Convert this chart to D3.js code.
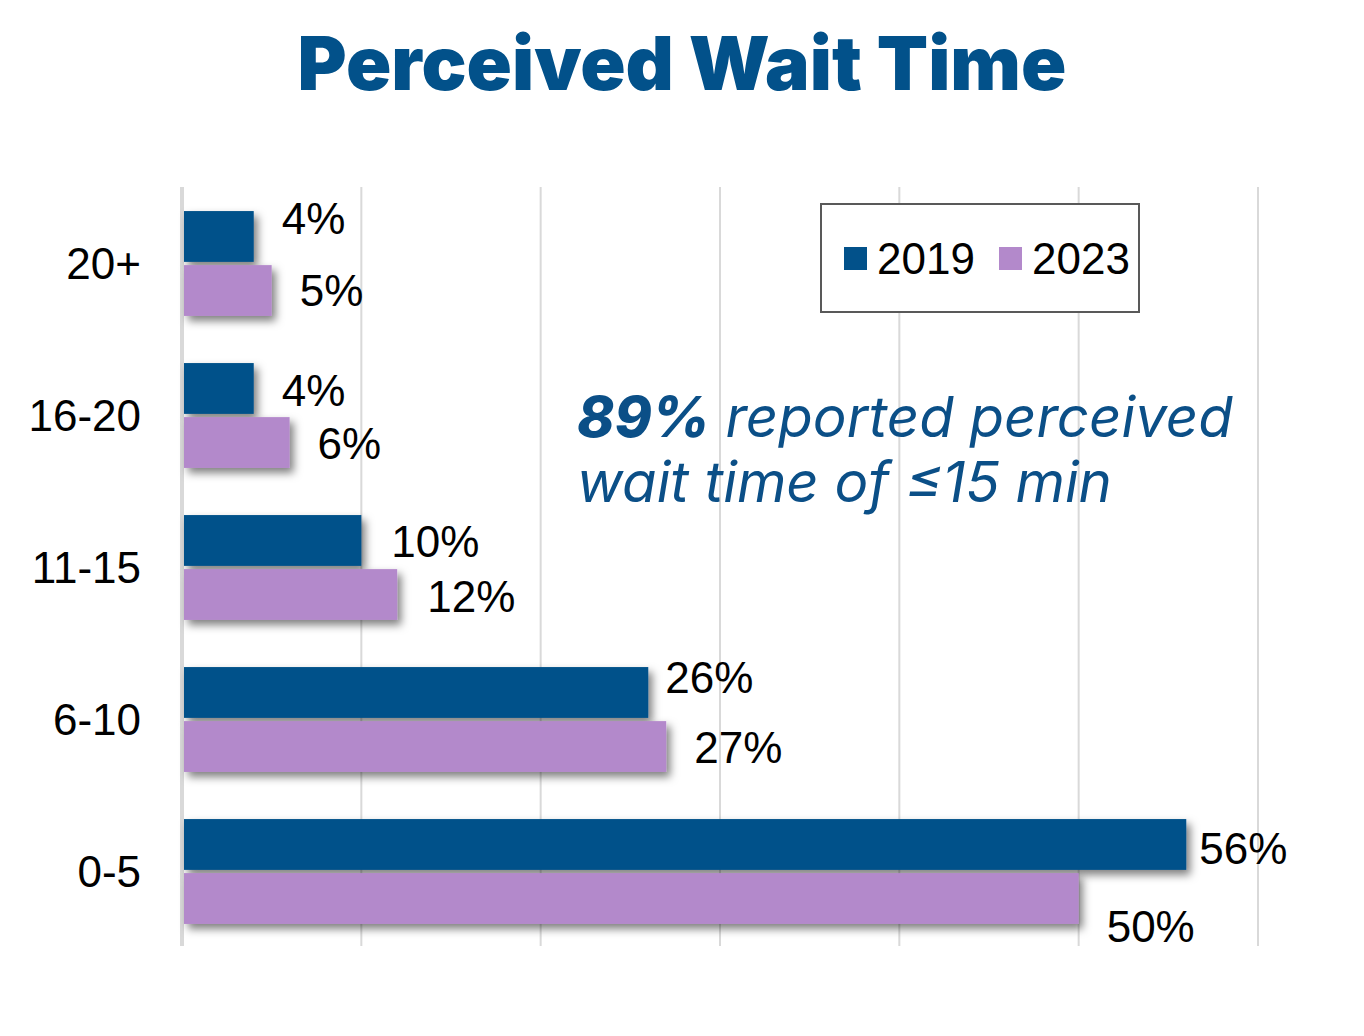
<!DOCTYPE html>
<html>
<head>
<meta charset="utf-8">
<script src="https://cdn.jsdelivr.net/npm/d3@7"></script>
<style>
  html, body { margin: 0; padding: 0; background: #fff; }
  svg { display: block; }
</style>
</head>
<body>
<svg id="chart" width="1364" height="1036"></svg>
<script>
// ---- data ----
const categories = ["20+", "16-20", "11-15", "6-10", "0-5"];
const seriesNames = ["2019", "2023"];
const values2019 = [4, 4, 10, 26, 56];
const values2023 = [5, 6, 12, 27, 50];
const xTicks = [0, 10, 20, 30, 40, 50, 60];
const titleText = "Perceived Wait Time";
const noteBold = "89%";
const noteLine1 = " reported perceived";
const noteLine2 = "wait time of \u226415 min";
// manual label nudges (dx, dy) in px, mimicking the hand-placed labels
const nudge2019 = [[0, -18], [0, 2], [2, 1], [-11, -15], [-15, 4]];
const nudge2023 = [[0, 0], [0, 1], [2, 2], [0, 1], [0, 28]];

const colors = { "2019": "#02518A", "2023": "#B389CB" };
const series = [
  { name: "2019", values: values2019, nudge: nudge2019 },
  { name: "2023", values: values2023, nudge: nudge2023 }
];

const svg = d3.select("#chart");
const defs = svg.append("defs");
const f = defs.append("filter").attr("id", "shadow")
  .attr("x", "-10%").attr("y", "-30%").attr("width", "130%").attr("height", "180%");
f.append("feDropShadow").attr("dx", 4).attr("dy", 5).attr("stdDeviation", 4)
  .attr("flood-color", "#000").attr("flood-opacity", 0.5);

const x = d3.scaleLinear().domain([0, 60]).range([182, 1258]);
const y = d3.scaleBand().domain(categories).range([187.5, 947.5])
  .paddingInner(0.31).paddingOuter(0.155);
const ySub = d3.scaleBand().domain(seriesNames).range([0, y.bandwidth()]).paddingInner(0.06);

// gridlines
const grid = svg.append("g");
grid.selectAll("line").data(xTicks).join("line")
  .attr("x1", d => x(d)).attr("x2", d => x(d))
  .attr("y1", 187).attr("y2", 946)
  .attr("stroke", "#D9D9D9")
  .attr("stroke-width", d => d === 0 ? 4 : 2);

// bars
const groups = svg.append("g").selectAll("g").data(series).join("g");
groups.selectAll("rect").data(s => s.values.map((v, i) => ({ v, cat: categories[i], name: s.name })))
  .join("rect")
  .attr("x", x(0) + 2)
  .attr("y", d => y(d.cat) + ySub(d.name))
  .attr("width", d => x(d.v) - x(0) - 2)
  .attr("height", ySub.bandwidth())
  .attr("fill", d => colors[d.name])
  .attr("filter", "url(#shadow)");

// data labels
const fs = 44;
groups.selectAll("text").data(s => s.values.map((v, i) => ({ v, cat: categories[i], name: s.name, nd: s.nudge[i] })))
  .join("text")
  .attr("x", d => x(d.v) + 28 + d.nd[0])
  .attr("y", d => y(d.cat) + ySub(d.name) + ySub.bandwidth() / 2 + fs * 0.358 + d.nd[1])
  .attr("font-family", "'Liberation Sans', Arial, sans-serif")
  .attr("font-size", fs)
  .attr("fill", "#000")
  .text(d => d.v + "%");

// category axis labels
svg.append("g").selectAll("text").data(categories).join("text")
  .attr("x", 141)
  .attr("y", d => y(d) + y.bandwidth() / 2 + fs * 0.358)
  .attr("text-anchor", "end")
  .attr("font-family", "'Liberation Sans', Arial, sans-serif")
  .attr("font-size", fs)
  .attr("fill", "#000")
  .text(d => d);

// title
const title = svg.append("text")
  .attr("x", 682).attr("y", 90)
  .attr("text-anchor", "middle")
  .attr("font-family", "Inter, 'Open Sans', sans-serif")
  .attr("font-weight", 900)
  .attr("font-size", 72)
  .attr("fill", "#02518A")
  .text(titleText);
const tw = title.node().getComputedTextLength();
title.attr("font-size", 72 * 769 / tw);

// legend
const lg = svg.append("g");
lg.append("rect").attr("x", 821).attr("y", 204).attr("width", 318).attr("height", 108)
  .attr("fill", "#fff").attr("stroke", "#595959").attr("stroke-width", 2);
const legendX = [844, 999];
seriesNames.forEach((n, i) => {
  lg.append("rect").attr("x", legendX[i]).attr("y", 247).attr("width", 23).attr("height", 23)
    .attr("fill", colors[n]);
  lg.append("text").attr("x", legendX[i] + 33).attr("y", 258.5 + fs * 0.358)
    .attr("font-family", "'Liberation Sans', Arial, sans-serif")
    .attr("font-size", fs).attr("fill", "#000").text(n);
});

// annotation
const noteFont = "Inter, 'Open Sans', sans-serif";
const note = svg.append("g").attr("fill", "#0B4F87")
  .attr("font-family", noteFont).attr("font-style", "italic");
const l1 = note.append("text").attr("x", 577).attr("y", 437).attr("font-size", 54);
l1.append("tspan").attr("font-weight", 800).text(noteBold);
l1.append("tspan").attr("font-weight", 400).text(noteLine1);
const w1 = l1.node().getComputedTextLength();
const nfs = 54 * 656 / w1;
l1.attr("font-size", nfs);
note.append("text").attr("x", 577).attr("y", 502).attr("font-size", nfs)
  .attr("font-weight", 400).text(noteLine2);
</script>
</body>
</html>
